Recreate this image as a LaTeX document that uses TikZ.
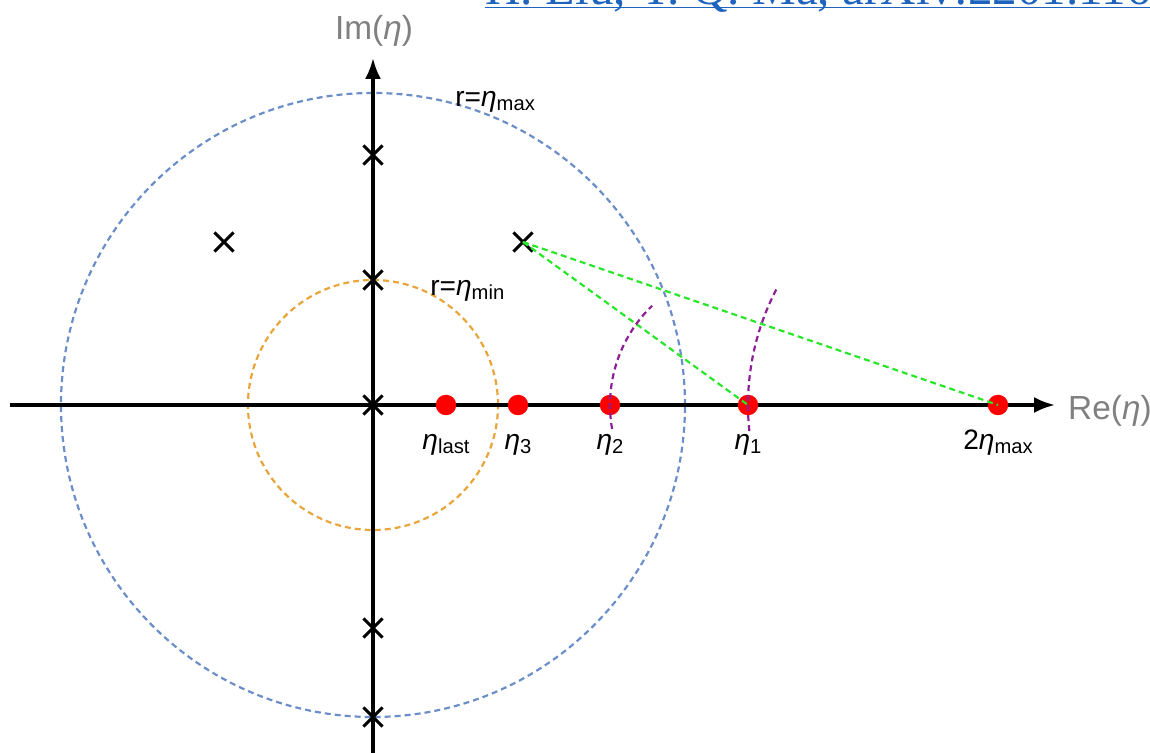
\documentclass[tikz,border=0pt]{standalone}
\usepackage{fontspec}
\setmainfont{Liberation Sans}
\newfontfamily\citefont{Liberation Serif}
\usetikzlibrary{arrows.meta,shapes.misc,calc}
\definecolor{plBlue}{RGB}{108,142,200}
\definecolor{plOrange}{RGB}{232,165,60}
\definecolor{plGreen}{RGB}{40,230,40}
\definecolor{plPurple}{RGB}{140,30,150}
\definecolor{plGray}{RGB}{128,128,128}
\definecolor{plLink}{RGB}{30,100,190}
\newcommand{\etasub}[1]{\textit{η}\raisebox{-0.25ex}{\fontsize{11.5}{11.5}\selectfont #1}}

\begin{document}
\begin{tikzpicture}[
  x=0.02cm, y=0.02cm,
  font=\fontsize{16}{19}\selectfont,
  ax/.style={line width=1.9pt, -{Latex[length=4.2mm, width=3.2mm]}},
  pole/.style={cross out, draw, line width=1.8pt, minimum size=3.2mm, inner sep=0pt},
  pt/.style={circle, fill=red, minimum size=4.1mm, inner sep=0pt},
  rad/.style={line width=1.25pt, dash pattern=on 3.4pt off 2.3pt},
  lbl/.style={anchor=base},
  axlbl/.style={text=plGray, font=\fontsize{19}{22}\selectfont}
]
\useasboundingbox (-373,-348) rectangle (777,405);

% radius circles
\coordinate (o) at (0,0);
\draw[rad, plBlue] (o) circle[radius=312];
\draw[rad, plOrange] (o) circle[radius=125];

% axes
\coordinate (xs) at (-363,0);
\coordinate (xe) at (682,0);
\coordinate (ys) at (0,-350);
\coordinate (ye) at (0,347);
\draw[ax] (xs) -- (xe);
\draw[ax] (ys) -- (ye);
\node[axlbl, anchor=base west] (re) at (689,-15) {Re(\textit{η})};
\node[axlbl, anchor=base] (im) at (1,365) {Im(\textit{η})};

% singularities
\node[pole] (c0) at (0,0) {};
\foreach \n/\y in {c1/250, c2/125, c3/-223, c4/-312}
  \node[pole] (\n) at (0,\y) {};
\node[pole] (pl) at (-149,163) {};
\node[pole] (pr) at (150,163) {};

% points on the real axis
\foreach \n/\x in {elast/73, e3/145, e2/237, e1/375, emax/625}
  \node[pt] (\n) at (\x,0) {};

\node[lbl] (lelast) at (73,-45) {\etasub{last}};
\node[lbl] (le3) at (145,-45) {\etasub{3}};
\node[lbl] (le2) at (237,-45) {\etasub{2}};
\node[lbl] (le1) at (375,-45) {\etasub{1}};
\node[lbl] (lemax) at (625,-45) {2\etasub{max}};

\node[anchor=base west, inner sep=0pt] (rmax) at (82,298) {r=\etasub{max}};
\node[anchor=base west, inner sep=0pt] (rmin) at (57,109) {r=\etasub{min}};

% steps
\draw[rad, plGreen] (pr.center) -- (e1.center);
\draw[rad, plGreen] (pr.center) -- (emax.center);
\draw[rad, plPurple] ($(emax)+(186:250)$) arc[start angle=186, end angle=152, radius=250];
\draw[rad, plPurple] ($(e1)+(190:138)$) arc[start angle=190, end angle=134, radius=138];

% reference
\node[anchor=base west, inner sep=0pt, text=plLink, font=\citefont\fontsize{28}{30}\selectfont] (cite) at (112,400.5) {H. Liu, Y. Q. Ma, arXiv:2201.11669};
\draw[plLink, line width=0.9pt] ($(cite.base west)+(0,-3)$) -- ($(cite.base east)+(0,-3)$);
\end{tikzpicture}
\end{document}
